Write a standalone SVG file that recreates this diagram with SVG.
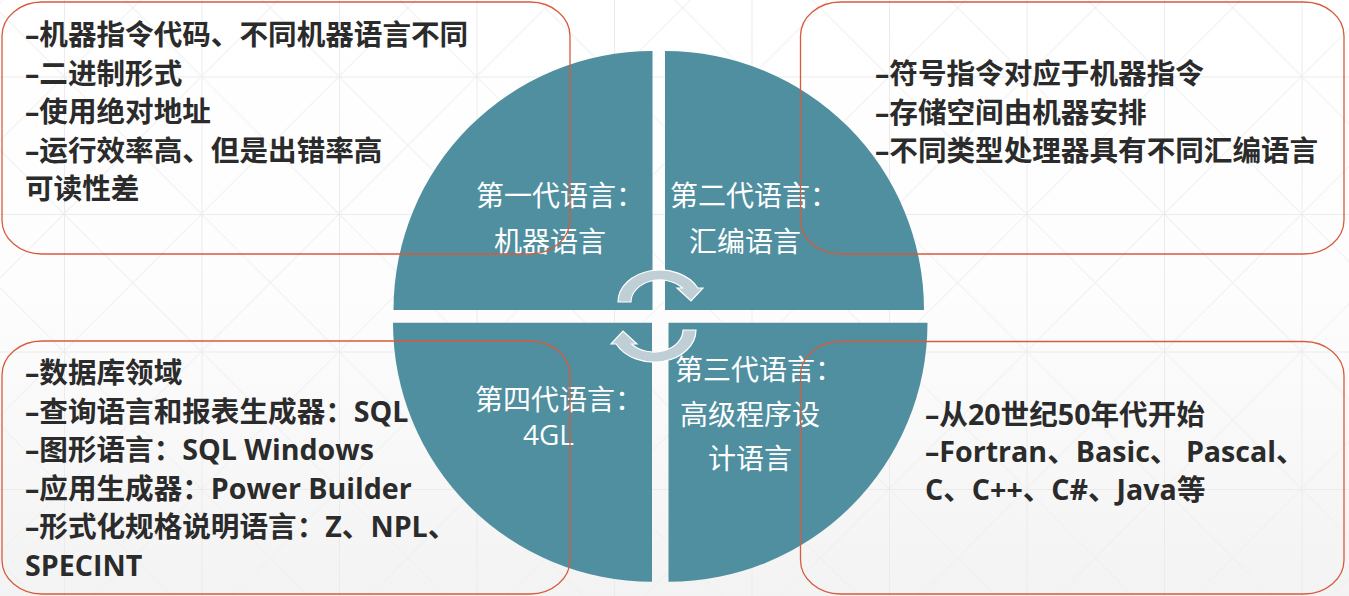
<svg xmlns="http://www.w3.org/2000/svg" width="1349" height="596" viewBox="0 0 1349 596">
<style>
.quad{fill:#4F8F9F;}
.box{fill:none;stroke:#D75B3C;stroke-width:1.3;}
.lbl{font-family:"Open Sans","Noto Sans CJK SC",sans-serif;font-size:28px;fill:#FFFFFF;font-weight:400;}
.txt{font-family:"Open Sans","Noto Sans CJK SC",sans-serif;font-size:28.6px;fill:#2B2B2B;font-weight:700;}
.arr{fill:#BFCFD5;stroke:#FFFFFF;stroke-width:1.2;stroke-linejoin:miter;}
</style>
<defs>
<linearGradient id="bg" x1="0" y1="0" x2="0" y2="1">
<stop offset="0" stop-color="#FFFFFF"/>
<stop offset="0.5" stop-color="#FDFDFD"/>
<stop offset="1" stop-color="#F3F3F3"/>
</linearGradient>
<pattern id="grid" patternUnits="userSpaceOnUse" x="64" y="76.5" width="137.5" height="137.5">
<path d="M0 0 L137.5 137.5 M137.5 0 L0 137.5" stroke="#F0F0F0" stroke-width="1" fill="none"/>
<path d="M0.5 0 L0.5 137.5 M0 0.5 L137.5 0.5" stroke="#EBEBEB" stroke-width="1" fill="none"/>
</pattern>
<path id="cyc" d="M618 302 A42 32 0 0 1 697.8 288 L703 288 L691 301 L677 288 L682.4 288 A29 22 0 0 0 631 302 Z"/>
</defs>
<rect x="0" y="0" width="1349" height="596" fill="url(#bg)"/>
<rect x="0" y="0" width="1349" height="596" fill="url(#grid)"/>

<g id="gen1">
<path class="quad" d="M652.5 310 L393.5 310 A259 259 0 0 1 652.5 51 Z"/>
<text class="lbl" x="476" y="206">第一代语言：</text>
<text class="lbl" x="494" y="251.5">机器语言</text>
</g>
<g id="gen2">
<path class="quad" d="M665 310 L665 51 A259 259 0 0 1 924 310 Z"/>
<text class="lbl" x="670" y="206">第二代语言：</text>
<text class="lbl" x="689" y="251.5">汇编语言</text>
</g>
<g id="gen4">
<path class="quad" d="M652 322.7 L652 581.7 A259 259 0 0 1 393 322.7 Z"/>
<text class="lbl" x="475" y="410">第四代语言：</text>
<text class="lbl" x="523" y="445">4GL</text>
</g>
<g id="gen3">
<path class="quad" d="M668.5 322.7 L927.5 322.7 A259 259 0 0 1 668.5 581.7 Z"/>
<text class="lbl" x="675" y="380">第三代语言：</text>
<text class="lbl" x="680" y="425">高级程序设</text>
<text class="lbl" x="708" y="469">计语言</text>
</g>

<g id="connectors">
<use href="#cyc" class="arr"/>
<use href="#cyc" class="arr" transform="rotate(180 657 316)"/>
</g>

<g id="box-gen1">
<rect class="box" x="2" y="2" width="568" height="252" rx="40" ry="34"/>
<text class="txt" x="25" y="45">–机器指令代码、不同机器语言不同</text>
<text class="txt" x="25" y="83.5">–二进制形式</text>
<text class="txt" x="25" y="122">–使用绝对地址</text>
<text class="txt" x="25" y="160.5">–运行效率高、但是出错率高</text>
<text class="txt" x="25" y="199">可读性差</text>
</g>
<g id="box-gen2">
<rect class="box" x="800.5" y="2" width="543.5" height="252" rx="40" ry="34"/>
<text class="txt" x="875" y="84">–符号指令对应于机器指令</text>
<text class="txt" x="875" y="122.5">–存储空间由机器安排</text>
<text class="txt" x="875" y="161">–不同类型处理器具有不同汇编语言</text>
</g>
<g id="box-gen4">
<rect class="box" x="2" y="341" width="568" height="253" rx="40" ry="34"/>
<text class="txt" x="25" y="383">–数据库领域</text>
<text class="txt" x="25" y="421.5">–查询语言和报表生成器：SQL</text>
<text class="txt" x="25" y="460">–图形语言：SQL Windows</text>
<text class="txt" x="25" y="498.5">–应用生成器：Power Builder</text>
<text class="txt" x="25" y="537">–形式化规格说明语言：Z、NPL、</text>
<text class="txt" x="25" y="575.5">SPECINT</text>
</g>
<g id="box-gen3">
<rect class="box" x="800.5" y="341.5" width="543.5" height="252.5" rx="40" ry="34"/>
<text class="txt" x="925" y="424.5">–从20世纪50年代开始</text>
<text class="txt" x="925" y="462">–Fortran、Basic、 Pascal、</text>
<text class="txt" x="925" y="500">C、C++、C#、Java等</text>
</g>
</svg>
